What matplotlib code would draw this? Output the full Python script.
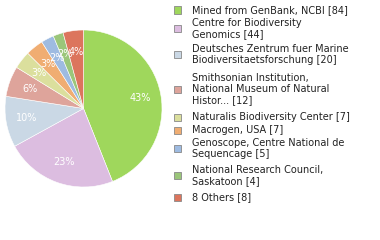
import matplotlib
matplotlib.use("Agg")
import matplotlib.pyplot as plt
from matplotlib.patches import Rectangle

labels = ["Mined from GenBank, NCBI [84]",
          "Centre for Biodiversity\nGenomics [44]",
          "Deutsches Zentrum fuer Marine\nBiodiversitaetsforschung [20]",
          "Smithsonian Institution,\nNational Museum of Natural\nHistor... [12]",
          "Naturalis Biodiversity Center [7]",
          "Macrogen, USA [7]",
          "Genoscope, Centre National de\nSequencage [5]",
          "National Research Council,\nSaskatoon [4]",
          "8 Others [8]"]
values = [84, 44, 20, 12, 7, 7, 5, 4, 8]
colors = ["#9fd75c", "#dcbde0", "#cad8e5", "#dea49b", "#dbdf9d",
          "#f0ad72", "#9ebbe1", "#9bc67a", "#dc755d"]

W, H = 380, 240
fig = plt.figure(figsize=(W / 100, H / 100), dpi=100)
fig.patch.set_facecolor("white")

cx, cy, r = 83.5, 108.5, 78.5
ax = fig.add_axes([(cx - r) / W, (H - cy - r) / H, 2 * r / W, 2 * r / H])
total = sum(values)

def pct(p):
    return "%d%%" % int(p + 1e-9)

wedges, texts, autotexts = ax.pie(values, colors=colors, startangle=90, counterclock=False,
                                  autopct=pct, pctdistance=0.73, radius=1.0,
                                  wedgeprops=dict(linewidth=0.4, edgecolor="white"),
                                  textprops=dict(color="white", fontsize=7))
ax.set_xlim(-1, 1)
ax.set_ylim(-1, 1)
ax.set_aspect("equal")
ax.axis("off")

# legend
first_line_y = [10, 23, 49, 78, 117, 130, 143, 170, 197]
line_h = 11.2
for lab, col, y0 in zip(labels, colors, first_line_y):
    n = lab.count("\n") + 1
    for i, line in enumerate(lab.split("\n")):
        fig.text(192 / W, 1 - (y0 + i * line_h) / H, line, fontsize=7,
                 va="center", ha="left", color="#222222")
    ym = y0 + (n - 1) * line_h / 2
    fig.patches.append(Rectangle((174 / W, 1 - (ym + 3.5) / H), 7 / W, 7 / H,
                                 transform=fig.transFigure, facecolor=col,
                                 edgecolor="#888888", linewidth=0.6))

fig.savefig("out.png", dpi=100)
